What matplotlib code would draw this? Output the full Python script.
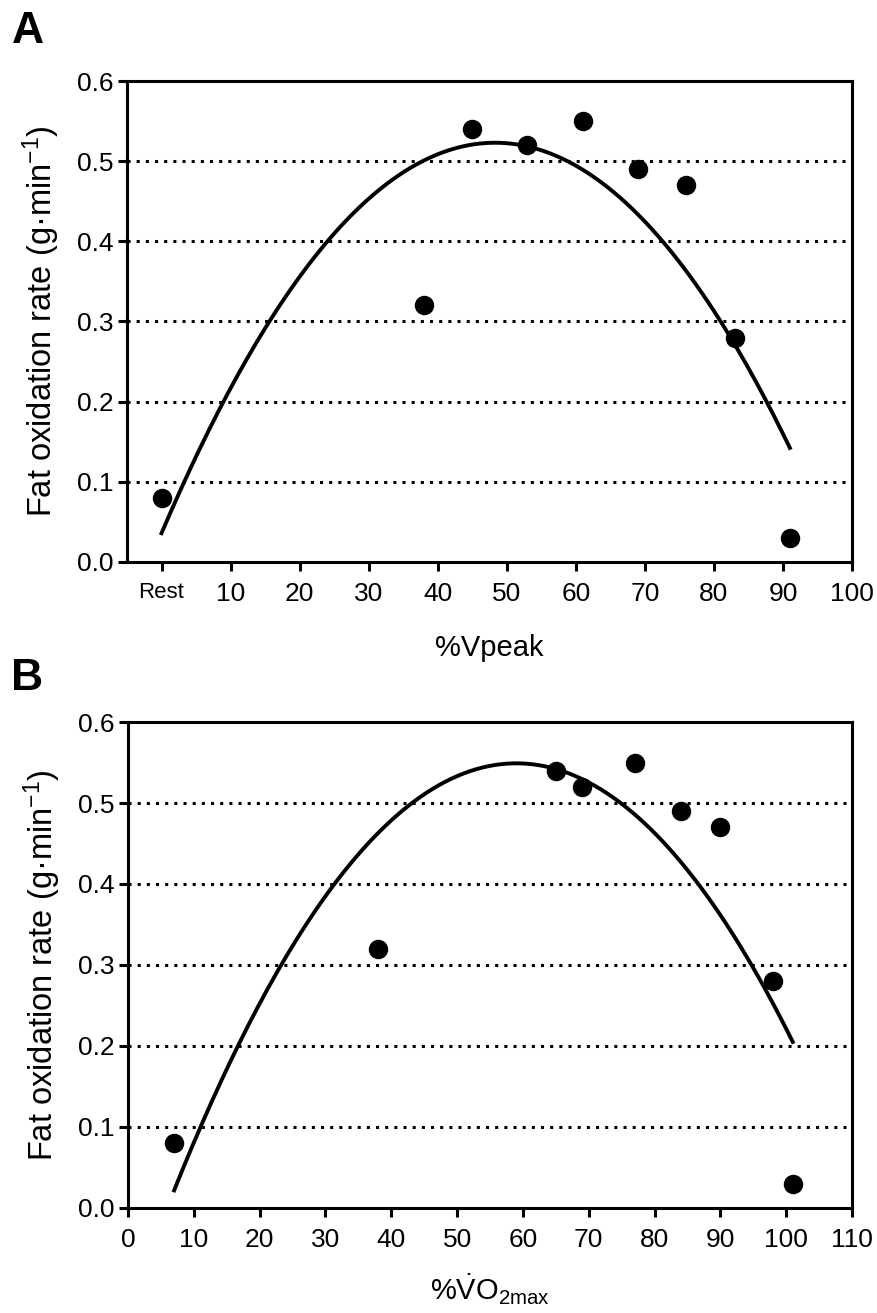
import numpy as np
import matplotlib
matplotlib.use('Agg')
import matplotlib.pyplot as plt

plt.rcParams['font.family'] = ['Liberation Sans', 'DejaVu Sans']
plt.rcParams['mathtext.fontset'] = 'custom'
plt.rcParams['mathtext.rm'] = 'Liberation Sans'
plt.rcParams['mathtext.it'] = 'Liberation Sans:italic'
plt.rcParams['mathtext.bf'] = 'Liberation Sans:bold'

# panel A: %Vpeak (0 = Rest)
vpeak = [0, 38, 45, 53, 61, 69, 76, 83, 91]
fat_a = [0.08, 0.32, 0.54, 0.52, 0.55, 0.49, 0.47, 0.28, 0.03]
fit_a = [-2.088e-4, 0.02017, 0.0359]   # quadratic fit
fit_a_range = [0, 91]
xticks_a = [0, 10, 20, 30, 40, 50, 60, 70, 80, 90, 100]
xlabels_a = ['Rest', '10', '20', '30', '40', '50', '60', '70', '80', '90', '100']

# panel B: %VO2max
vo2 = [7, 38, 65, 69, 77, 84, 90, 98, 101]
fat_b = [0.08, 0.32, 0.54, 0.52, 0.55, 0.49, 0.47, 0.28, 0.03]
fit_b = [-1.95e-4, 0.02301, -0.1298]
fit_b_range = [7, 101]
xticks_b = list(range(0, 111, 10))

yticks = [0.0, 0.1, 0.2, 0.3, 0.4, 0.5, 0.6]
ylab = r'Fat oxidation rate (g·min$^{-1}$)'

fig = plt.figure(figsize=(8.77, 13.13), dpi=100)
ax_a = fig.add_axes([0.1448, 0.5720, 0.8267, 0.3663])
ax_b = fig.add_axes([0.1460, 0.0800, 0.8255, 0.3701])


def style(ax):
    for s in ax.spines.values():
        s.set_linewidth(2.2)
    ax.tick_params(direction='out', length=6.5, width=2.2, labelsize=19, pad=3)
    ax.tick_params(axis='x', pad=8)
    ax.set_ylim(0, 0.6)
    ax.set_yticks(yticks)
    ax.set_yticklabels([f'{v:.1f}' for v in yticks])
    for v in yticks[1:-1]:
        ax.axhline(v, color='k', lw=2.2, dashes=(1, 2.0), zorder=1)
    ax.set_ylabel(ylab, fontsize=23.5, labelpad=11)


# A
style(ax_a)
xs = np.linspace(*fit_a_range, 200)
ax_a.plot(xs, np.polyval(fit_a, xs), color='k', lw=2.8, zorder=2)
ax_a.plot(vpeak, fat_a, 'o', color='k', ms=13, zorder=3)
ax_a.set_xlim(-5, 100)
ax_a.set_xticks(xticks_a)
ax_a.set_xticklabels(xlabels_a)
ax_a.get_xticklabels()[0].set_fontsize(16)
ax_a.set_xlabel('%Vpeak', fontsize=21, labelpad=20)
fig.text(0.013, 0.976, 'A', fontsize=32, fontweight='bold', va='center')

# B
style(ax_b)
xs = np.linspace(*fit_b_range, 200)
ax_b.plot(xs, np.polyval(fit_b, xs), color='k', lw=2.8, zorder=2)
ax_b.plot(vo2, fat_b, 'o', color='k', ms=13, zorder=3)
ax_b.set_xlim(0, 110)
ax_b.set_xticks(xticks_b)
ax_b.set_xlabel(r'%$\dot{\mathrm{V}}\mathrm{O}_{\mathrm{2max}}$', fontsize=21, labelpad=15)
fig.text(0.013, 0.4836, 'B', fontsize=32, fontweight='bold', va='center')

fig.savefig('out.png', dpi=100)
